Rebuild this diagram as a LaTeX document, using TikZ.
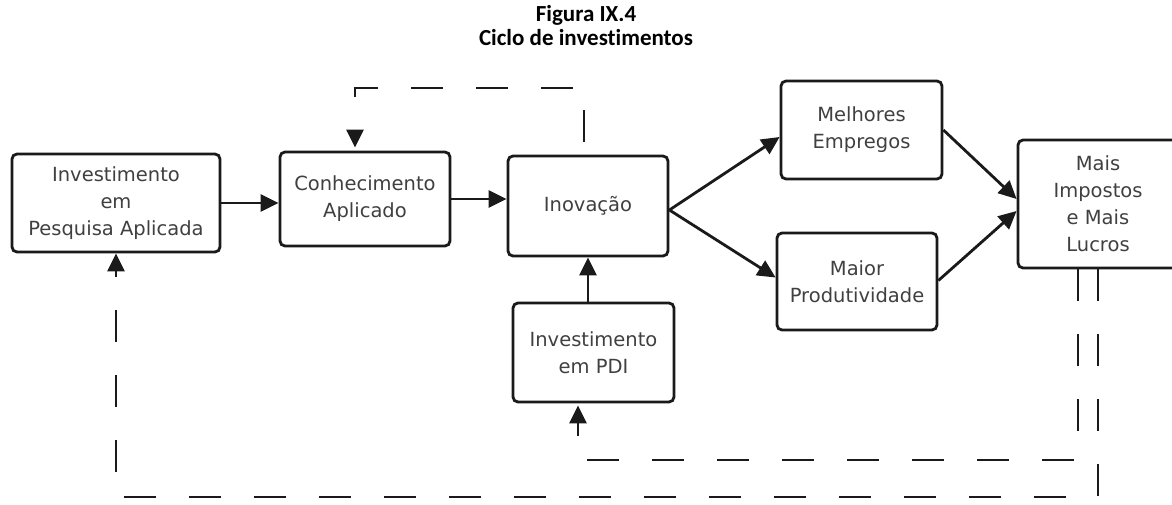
\documentclass[tikz,border=0pt]{standalone}
\usepackage{fontspec}
\setmainfont{DejaVu Sans}
\newfontfamily\titlefont[Ligatures={NoCommon}]{Carlito}
\usetikzlibrary{arrows.meta,calc}
\definecolor{txt}{HTML}{404040}
\definecolor{ln}{HTML}{1A1A1A}
\tikzset{
  box/.style={draw=ln, line width=2.8pt, rounded corners=5pt, align=center,
    text=txt, font=\fontsize{19.5}{27}\selectfont, inner sep=0pt},
  conn/.style={draw=ln, line width=2.8pt, -{Triangle[length=18pt,width=17pt]}},
  dconn/.style={draw=ln, line width=2.8pt, dash pattern=on 32pt off 33pt,
    -{Triangle[length=18pt,width=17pt]}},
}
\begin{document}
\begin{tikzpicture}[x=1pt,y=-1pt]
\clip (0,0) rectangle (1172,504);
\fill[white] (0,0) rectangle (1172,504);
% title
\node[font=\titlefont\bfseries\fontsize{23}{24}\selectfont, align=center] (title) at (586,26)
  {Figura IX.4\\Ciclo de investimentos};
% boxes
\node[box, minimum width=208pt, minimum height=98pt] (A) at (116,203)
  {Investimento\\em\\Pesquisa Aplicada};
\node[box, minimum width=170pt, minimum height=94pt] (B) at (365,199)
  {Conhecimento\\Aplicado};
\node[box, minimum width=160pt, minimum height=100pt] (C) at (588,206)
  {Inovação};
\node[box, minimum width=161pt, minimum height=98pt] (D) at (861.5,130)
  {Melhores\\Empregos};
\node[box, minimum width=160pt, minimum height=97pt] (E) at (857,281.5)
  {Maior\\Produtividade};
\node[box, minimum width=161pt, minimum height=99pt] (G) at (593.5,352.5)
  {Investimento\\em PDI};
\node[box, minimum width=160pt, minimum height=128pt] (F) at (1098,204)
  {Mais\\Impostos\\e Mais\\Lucros};
% solid connectors
\draw[conn] (A.east) -- (A.east -| B.west);
\draw[conn] (B.east) -- (B.east -| C.west);
\draw[conn] (C.south |- G.north) -- (C.south);
\draw[conn] ([yshift=-4pt]C.east) -- ([yshift=-7pt]D.west);
\draw[conn] ([yshift=-4pt]C.east) -- ([yshift=4pt]E.west);
\draw[conn] (D.east) -- ([yshift=5pt]F.west);
\draw[conn] ([yshift=1pt]E.east) -- ([yshift=-7pt]F.west);
% dashed loops
\coordinate (t1) at (584,88);
\coordinate (t2) at (355,88);
\draw[dconn, dash phase=-13pt] ([xshift=-4pt]C.north) -- (t1) -- (t2) -- ([xshift=-10pt,yshift=3pt]B.north);
\coordinate (i1) at (1078,460);
\coordinate (i2) at (578,460);
\draw[dconn] (F.south -| i1) -- (i1) -- (i2) -- ([yshift=-2pt]G.south -| i2);
\coordinate (o1) at (1098,497);
\coordinate (o2) at (116,497);
\draw[dconn] (F.south -| o1) -- (o1) -- (o2) -- (A.south);
\end{tikzpicture}
\end{document}
